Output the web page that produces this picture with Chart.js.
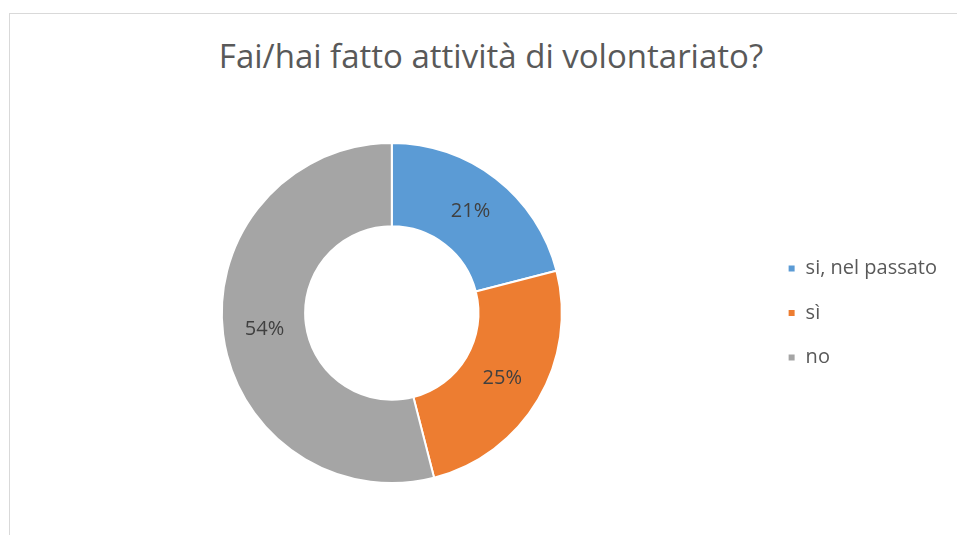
<!DOCTYPE html>
<html lang="it">
<head>
    <meta charset="UTF-8">
    <title>Fai/hai fatto attività di volontariato?</title>
    <script src="https://cdn.jsdelivr.net/npm/chart.js"></script>
    <style>
        html, body { margin: 0; padding: 0; background: #fff; }
        body { width: 957px; height: 535px; position: relative; overflow: hidden; }
        .frame { position: absolute; left: 9px; top: 13px; width: 1000px; height: 600px;
                 border: 1px solid #d9d9d9; box-sizing: border-box; }
        #wrap { position: absolute; left: 0; top: 0; width: 957px; height: 535px; }
        .titolo { position: absolute; left: 191px; width: 600px; top: 36px; margin: 0;
                  text-align: center; font: normal 33px/40px "Open Sans", Lato, sans-serif;
                  color: #595959; white-space: nowrap; }
    </style>
</head>
<body>
    <div class="frame"></div>
    <h1 class="titolo" id="titolo"></h1>
    <div id="wrap"><canvas id="myChart"></canvas></div>

    <script>
        const titolo = 'Fai/hai fatto attività di volontariato?';
        const categorie = ['si, nel passato', 'sì', 'no'];
        const percentuali = [21, 25, 54];
        const colori = ['#5B9BD5', '#ED7D31', '#A5A5A5'];

        const FONT = '"Open Sans", Lato, sans-serif';

        document.getElementById('titolo').textContent = titolo;

        // etichette dentro le fette (niente plugin datalabels disponibile)
        const etichette = {
            id: 'etichette',
            afterDatasetsDraw(chart) {
                const ctx = chart.ctx;
                const meta = chart.getDatasetMeta(0);
                ctx.save();
                ctx.font = '20px ' + FONT;
                ctx.fillStyle = '#404040';
                ctx.textAlign = 'center';
                ctx.textBaseline = 'middle';
                meta.data.forEach((arc, i) => {
                    const p = arc.tooltipPosition();
                    ctx.fillText(percentuali[i] + '%', p.x, p.y);
                });
                ctx.restore();
            }
        };

        const ctx = document.getElementById('myChart').getContext('2d');
        const myChart = new Chart(ctx, {
            type: 'doughnut',
            data: {
                labels: categorie,
                datasets: [{
                    data: percentuali,
                    backgroundColor: colori,
                    borderColor: '#ffffff',
                    borderWidth: 2
                }]
            },
            options: {
                responsive: true,
                maintainAspectRatio: false,
                animation: false,
                cutout: '51%',
                layout: { padding: { top: 142, bottom: 51, left: 20.5, right: 10 } },
                plugins: {
                    tooltip: { enabled: false },
                    title: { display: false },
                    legend: {
                        position: 'right',
                        align: 'center',
                        labels: {
                            color: '#595959',
                            font: { family: FONT, size: 20 },
                            boxWidth: 8,
                            boxHeight: 8,
                            padding: 24.5
                        }
                    }
                }
            },
            plugins: [etichette]
        });
    </script>
</body>
</html>
